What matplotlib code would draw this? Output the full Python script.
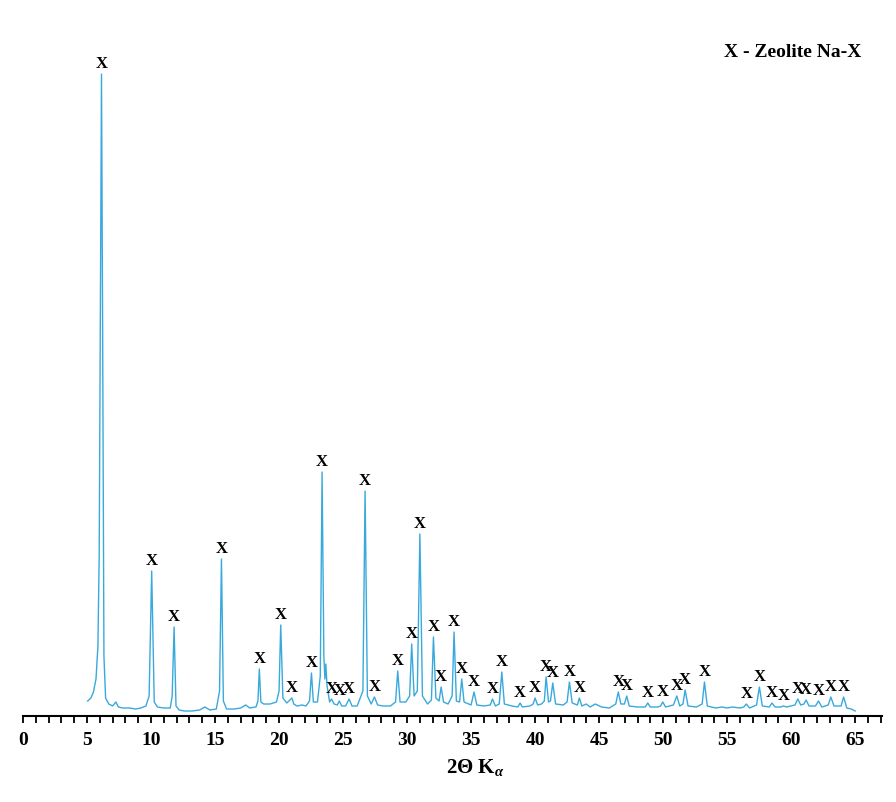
import matplotlib
matplotlib.use("Agg")
import matplotlib.pyplot as plt
from matplotlib.ticker import MultipleLocator

# ---- data (2-theta in degrees, intensity in arbitrary units) ----
two_theta = [
    5.05, 5.3, 5.5, 5.7, 5.85, 5.95, 6.05, 6.13, 6.22, 6.32, 6.45, 6.7, 7.0, 7.25, 7.45,
    7.8, 8.3, 8.8, 9.2, 9.6, 9.85, 10.05, 10.25, 10.5, 11.0, 11.5, 11.65, 11.8, 11.95, 12.2,
    12.6, 13.2, 13.8, 14.2, 14.6, 15.1, 15.35, 15.5, 15.65, 15.9, 16.5, 17.0, 17.4, 17.7, 18.2,
    18.35, 18.46, 18.58, 18.8, 19.3, 19.8, 20.0, 20.13, 20.3, 20.6, 20.85, 21.0, 21.15, 21.4, 21.8,
    22.1, 22.38, 22.53, 22.68, 23.0, 23.22, 23.36, 23.5, 23.58, 23.65, 23.75, 23.95, 24.1, 24.3, 24.55,
    24.7, 24.9, 25.2, 25.47, 25.7, 26.1, 26.55, 26.72, 26.9, 27.2, 27.45, 27.7, 28.1, 28.7, 29.1,
    29.27, 29.45, 29.9, 30.2, 30.36, 30.55, 30.8, 31.0, 31.2, 31.6, 31.9, 32.06, 32.25, 32.5, 32.66,
    32.85, 33.2, 33.52, 33.67, 33.85, 34.1, 34.27, 34.45, 35.0, 35.23, 35.45, 36.0, 36.5, 36.67, 36.9,
    37.2, 37.4, 37.6, 38.2, 38.65, 38.83, 39.0, 39.6, 39.85, 40.0, 40.2, 40.5, 40.72, 40.86, 41.05,
    41.2, 41.38, 41.6, 42.2, 42.5, 42.68, 42.9, 43.3, 43.46, 43.65, 44.0, 44.3, 44.7, 45.2, 45.8,
    46.3, 46.5, 46.7, 46.98, 47.16, 47.35, 48.0, 48.6, 48.8, 49.0, 49.6, 49.8, 49.97, 50.2, 50.8,
    51.07, 51.3, 51.55, 51.72, 51.95, 52.6, 53.05, 53.23, 53.45, 54.1, 54.6, 55.0, 55.4, 56.0, 56.3,
    56.5, 56.75, 57.3, 57.52, 57.75, 58.3, 58.5, 58.75, 59.2, 59.4, 59.65, 60.3, 60.52, 60.75, 61.0,
    61.17, 61.4, 61.9, 62.14, 62.4, 62.9, 63.1, 63.35, 63.9, 64.1, 64.35, 64.7, 65.0,
]
intensity = [
    15, 18, 24, 37, 70, 160, 420, 642, 380, 60, 18, 12, 10, 14, 9,
    8, 8, 7, 8, 10, 20, 145, 14, 9, 8, 8, 20, 89, 10, 6,
    5, 5, 6, 9, 6, 7, 25, 157, 15, 7, 7, 8, 11, 8, 9,
    15, 47, 14, 12, 12, 14, 25, 91, 18, 13, 16, 18, 12, 10, 11,
    10, 15, 43, 14, 14, 40, 244, 60, 37, 52, 30, 14, 17, 12, 11,
    15, 10, 10, 17, 10, 10, 25, 225, 20, 12, 19, 11, 10, 10, 14,
    45, 14, 14, 20, 72, 20, 25, 182, 20, 12, 16, 79, 18, 15, 29,
    14, 12, 20, 84, 15, 14, 37, 14, 11, 24, 11, 10, 11, 17, 10,
    12, 44, 12, 10, 9, 13, 9, 10, 12, 18, 11, 12, 15, 39, 14,
    15, 33, 12, 11, 14, 34, 13, 11, 18, 10, 12, 9, 12, 9, 8,
    12, 24, 12, 12, 20, 10, 9, 9, 13, 9, 9, 10, 14, 9, 11,
    20, 10, 12, 26, 10, 9, 12, 34, 10, 8, 9, 8, 9, 8, 9,
    12, 8, 11, 29, 10, 9, 13, 9, 9, 10, 9, 11, 17, 11, 12,
    16, 10, 10, 15, 9, 11, 19, 10, 10, 19, 8, 7, 5,
]

# peaks marked "X" (Zeolite Na-X)
marked_peaks = [
    6.13, 10.05, 11.8, 15.5, 18.46, 20.13, 21.0, 22.53, 23.36, 24.1, 24.7, 25.47,
    26.72, 27.45, 29.27, 30.36, 31.0, 32.06, 32.66, 33.67, 34.27, 35.23, 36.67, 37.4,
    38.83, 40.0, 40.86, 41.38, 42.68, 43.46, 46.5, 47.16, 48.8, 49.97, 51.07, 51.72,
    53.23, 56.5, 57.52, 58.5, 59.4, 60.52, 61.17, 62.14, 63.1, 64.1,
]
x_ticks = [0, 5, 10, 15, 20, 25, 30, 35, 40, 45, 50, 55, 60, 65]
legend_text = "X - Zeolite Na-X"
x_label = r"2Θ K$_{\alpha}$"

assert len(two_theta) == len(intensity)
lookup = dict(zip(two_theta, intensity))

plt.rcParams["font.family"] = ["Liberation Serif", "DejaVu Serif"]
plt.rcParams["font.weight"] = "bold"
plt.rcParams["mathtext.fontset"] = "custom"
plt.rcParams["mathtext.rm"] = "Liberation Serif:bold"
plt.rcParams["mathtext.it"] = "Liberation Serif:italic:bold"

fig = plt.figure(figsize=(8.96, 8.03), dpi=100)
ax = fig.add_axes([0.0257, 0.1071, 0.9587, 0.8717])

ax.plot(two_theta, intensity, color="#39a9dc", lw=1.0)

for p in marked_peaks:
    ax.annotate("X", xy=(p, lookup[p]), xytext=(0, 2.5), textcoords="offset points",
                ha="center", va="bottom", fontsize=12, fontweight="bold", color="black")

ax.set_xlim(0, 67.1)
ax.set_ylim(0, 700)
ax.set_xticks(x_ticks)
ax.xaxis.set_minor_locator(MultipleLocator(1))
ax.tick_params(axis="x", which="both", direction="out", length=5, width=1.3, pad=6,
               labelsize=14, colors="black")
for lab in ax.get_xticklabels():
    lab.set_fontweight("bold")
ax.set_yticks([])
for s in ["left", "right", "top"]:
    ax.spines[s].set_visible(False)
ax.spines["bottom"].set_linewidth(1.5)

ax.set_xlabel(x_label, fontsize=15, fontweight="bold")
ax.xaxis.set_label_coords(0.526, -0.057)

ax.text(0.896, 665 / 700, legend_text, transform=ax.transAxes, ha="center", va="center",
        fontsize=14, fontweight="bold")

fig.savefig("out.png", dpi=100)
